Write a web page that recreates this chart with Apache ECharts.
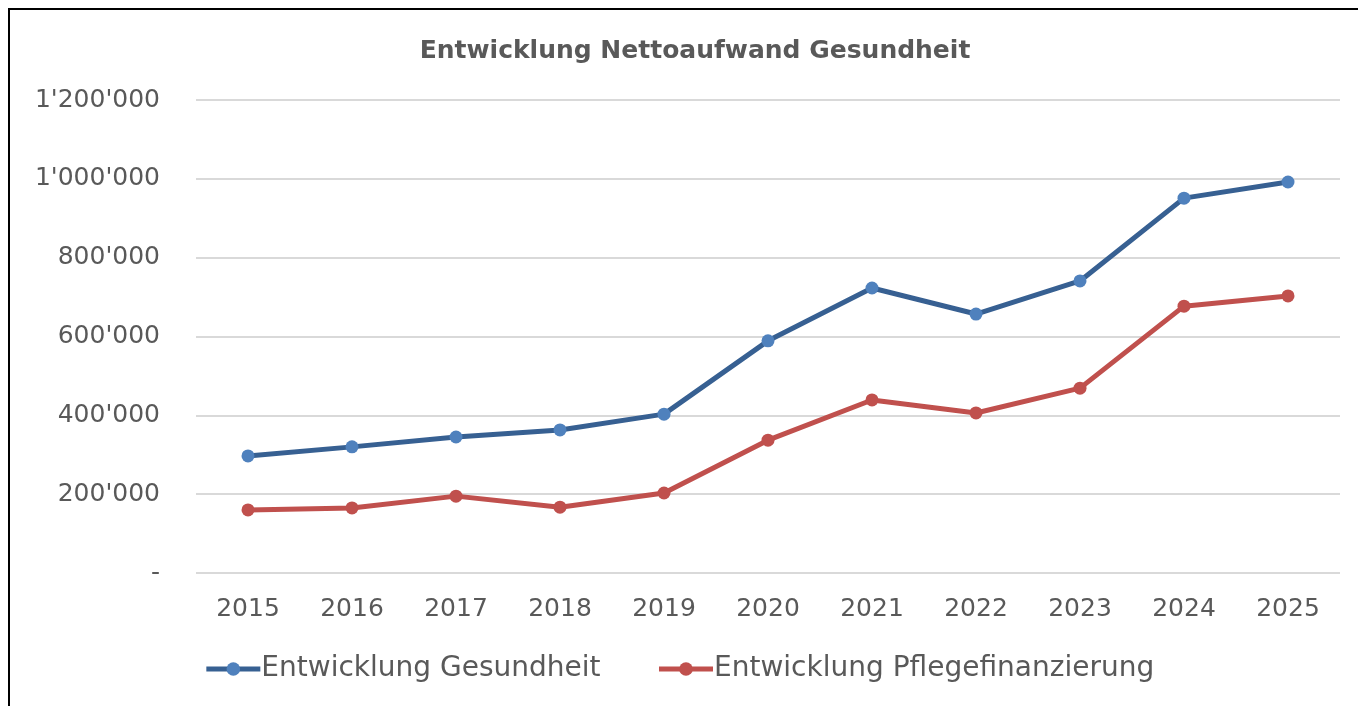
<!DOCTYPE html>
<html>
<head>
<meta charset="utf-8">
<script src="https://cdn.jsdelivr.net/npm/echarts@6/dist/echarts.min.js"></script>
<style>
  html, body { margin: 0; padding: 0; background: #fff; }
  #chart { width: 1358px; height: 706px; }
</style>
</head>
<body>
<div id="chart"></div>
<script>
// Jahre
const years = ["2015", "2016", "2017", "2018", "2019", "2020", "2021", "2022", "2023", "2024", "2025"];
// Entwicklung Gesundheit
const gesundheit = [297000, 320000, 345000, 363000, 403000, 589000, 723000, 657000, 741000, 951000, 992000];
// Entwicklung Pflegefinanzierung
const pflege = [160000, 165000, 195000, 167000, 203000, 337000, 439000, 406000, 469000, 677000, 703000];
const yTicks = [0, 200000, 400000, 600000, 800000, 1000000, 1200000];

const font = "'DejaVu Sans', sans-serif";

function fmt(v) {
  if (v === 0) return "-";
  return String(v).replace(/\B(?=(\d{3})+(?!\d))/g, "'");
}

const chart = echarts.init(document.getElementById("chart"));
chart.setOption({
  animation: false,
  title: {
    text: "Entwicklung Nettoaufwand Gesundheit",
    left: 690,
    textAlign: "center",
    top: 34,
    textStyle: { fontFamily: font, fontSize: 25, fontWeight: "bold", color: "#595959" },
  },
  graphic: [
    {
      type: "rect",
      shape: { x: 9, y: 9, width: 1400, height: 800 },
      style: { fill: "none", stroke: "#000", lineWidth: 2 },
      silent: true,
    },
  ],
  grid: { left: 196, right: 18, top: 100, bottom: 133 },
  legend: {
    bottom: 18,
    left: "center",
    itemWidth: 54,
    itemHeight: 17,
    itemGap: 56,
    textStyle: { fontFamily: font, fontSize: 28, color: "#595959", padding: [0, 0, 0, -4] },
    data: [
      { name: "Entwicklung Gesundheit", lineStyle: { width: 5, color: "#376092" }, itemStyle: { color: "#4f81bd" } },
      { name: "Entwicklung Pflegefinanzierung", lineStyle: { width: 5, color: "#c0504d" }, itemStyle: { color: "#c0504d" } },
    ],
  },
  xAxis: {
    type: "category",
    data: years,
    boundaryGap: true,
    axisLine: { show: false },
    axisTick: { show: false },
    axisLabel: { fontFamily: font, fontSize: 25, color: "#595959", margin: 24 },
  },
  yAxis: {
    type: "value",
    min: 0,
    max: 1200000,
    interval: 200000,
    axisLine: { show: false },
    axisTick: { show: false },
    splitLine: { lineStyle: { color: "#d9d9d9", width: 2 } },
    axisLabel: {
      fontFamily: font,
      fontSize: 25,
      color: "#595959",
      margin: 36,
      formatter: (v) => (yTicks.includes(v) ? fmt(v) : ""),
    },
  },
  series: [
    {
      name: "Entwicklung Gesundheit",
      type: "line",
      data: gesundheit,
      symbol: "circle",
      symbolSize: 13,
      lineStyle: { color: "#376092", width: 5 },
      itemStyle: { color: "#4f81bd" },
    },
    {
      name: "Entwicklung Pflegefinanzierung",
      type: "line",
      data: pflege,
      symbol: "circle",
      symbolSize: 13,
      lineStyle: { color: "#c0504d", width: 5 },
      itemStyle: { color: "#c0504d" },
    },
  ],
});
</script>
</body>
</html>
